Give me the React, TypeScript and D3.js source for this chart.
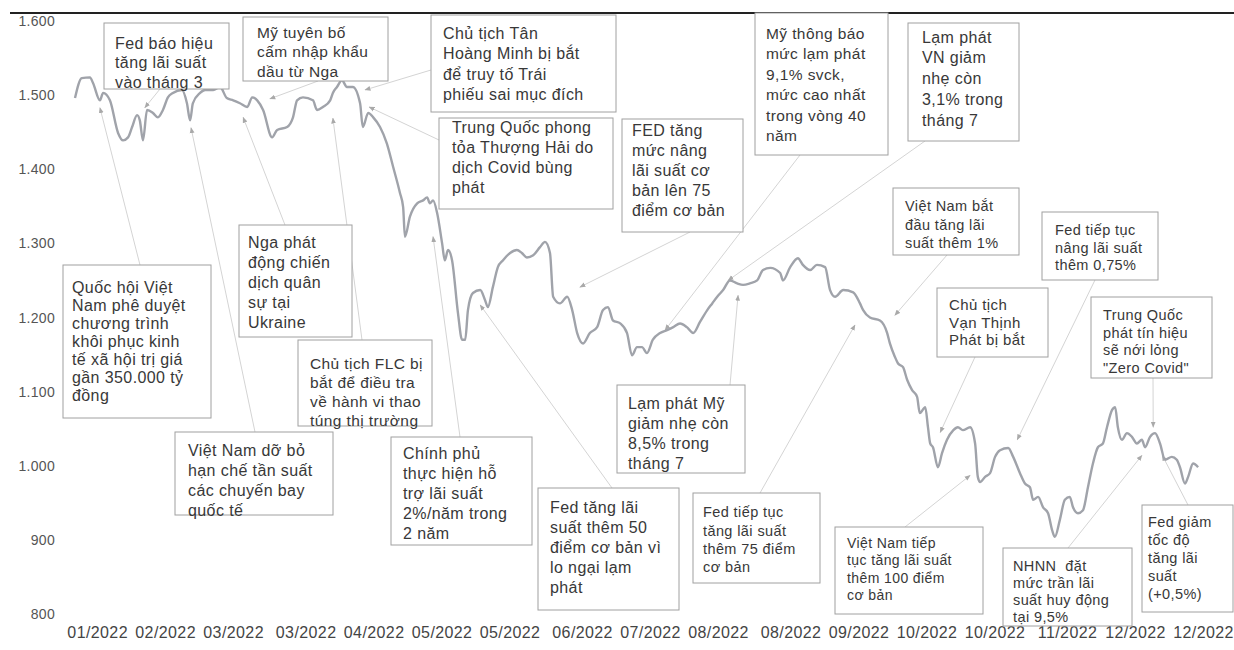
import React, { useEffect } from "react";
import * as d3 from "d3";

// ---- Data: VN-Index 2022 (trading-day index, closing level) ----
const days = [0,1.5,3.3,4.0,5.5,6.2,7.7,9.5,10.6,11.7,12.6,13.7,14.3,15.0,15.9,17.2,18.3,19.4,20.5,21.6,23.6,24.7,25.4,26.0,27.6,28.7,30.5,32.0,33.5,34.9,36.4,38.0,39.1,40.2,41.5,43.5,44.6,46.8,48.1,49.0,50.3,52.5,53.4,54.7,56.3,56.9,57.8,58.9,60.0,61.3,62.9,63.5,64.7,65.8,67.3,68.8,70.2,71.7,72.4,72.8,73.9,75.5,76.8,77.7,78.3,79.0,79.9,81.0,81.6,82.3,83.2,84.5,85.4,86.1,86.7,87.8,89.4,90.5,91.1,92.2,93.3,94.4,96.0,97.5,98.6,99.7,101.1,102.6,103.7,104.8,105.5,107.0,108.6,109.7,110.8,112.1,113.6,115.2,116.5,117.6,118.7,120.3,121.8,122.9,124.0,125.1,126.2,127.5,129.1,130.6,132.0,133.5,135.0,136.4,137.9,139.5,140.6,141.7,143.0,144.5,146.1,147.4,148.9,150.5,151.8,153.4,155.6,156.2,157.8,159.5,160.6,162.2,163.7,165.5,166.6,167.7,169.5,171.7,173.2,173.9,175.4,177.6,179.2,179.8,180.9,181.6,182.7,183.6,184.7,185.8,186.4,187.6,188.2,188.7,189.3,190.4,191.3,192.4,193.8,194.8,195.9,197.5,198.6,199.2,199.7,200.8,201.9,203.0,204.1,205.9,207.0,208.5,209.6,210.7,211.4,212.5,213.6,214.7,215.6,216.2,217.3,218.4,219.5,220.2,221.3,222.4,223.5,224.6,225.7,226.8,227.7,228.8,229.5,230.1,231.0,232.1,233.2,234.3,235.4,236.1,237.2,238.3,239.4,240.5,242.0,243.1,243.8,244.9,245.6,246.7,247.8];

const values = [1496,1523,1524,1516,1493,1503,1493,1449,1439,1443,1457,1473,1466,1439,1480,1476,1470,1480,1497,1503,1507,1489,1466,1489,1503,1507,1507,1511,1496,1493,1489,1484,1497,1493,1480,1443,1453,1457,1470,1493,1497,1493,1480,1484,1493,1503,1511,1520,1511,1511,1489,1457,1476,1470,1457,1435,1403,1368,1349,1309,1336,1354,1358,1362,1354,1358,1341,1300,1277,1291,1277,1206,1170,1170,1210,1233,1237,1223,1214,1241,1268,1277,1287,1291,1287,1281,1284,1295,1302,1287,1228,1219,1228,1210,1179,1165,1179,1187,1210,1214,1196,1192,1179,1149,1160,1160,1152,1170,1179,1183,1187,1192,1187,1179,1194,1210,1219,1228,1237,1250,1246,1244,1246,1250,1264,1267,1260,1250,1268,1280,1271,1264,1271,1268,1237,1228,1237,1234,1219,1210,1200,1196,1179,1165,1147,1138,1133,1116,1102,1093,1071,1079,1052,1030,1025,998,1017,1035,1048,1052,1048,1052,1030,985,978,985,990,1012,1021,1024,1012,990,976,971,954,958,944,936,913,904,927,954,958,944,936,940,971,1003,1025,1030,1052,1075,1079,1052,1035,1044,1039,1030,1035,1025,1039,1044,1030,1008,1012,1008,998,976,985,1003,998];

const xTickLabels = ["01/2022","02/2022","03/2022","03/2022","04/2022","05/2022","05/2022","06/2022","07/2022","08/2022","08/2022","09/2022","10/2022","10/2022","11/2022","12/2022","12/2022"];
const xTickDays = [5,20,35,51,66,81,96,112,127,142,158,173,188,203,219,234,249];
const yTicks = [800,900,1000,1100,1200,1300,1400,1500,1600];

// ---- Events (text + point on the curve they refer to) ----
const eventTexts: string[][] = [
  ["Fed báo hiệu","tăng lãi suất","vào tháng 3"],
  ["Mỹ tuyên bố","cấm nhập khẩu","dầu từ Nga"],
  ["Chủ tịch Tân","Hoàng Minh bị bắt","để truy tố Trái","phiếu sai mục đích"],
  ["Trung Quốc phong","tỏa Thượng Hải do","dịch Covid bùng","phát"],
  ["FED tăng","mức nâng","lãi suất cơ","bản lên 75","điểm cơ bản"],
  ["Mỹ thông báo","mức lạm phát","9,1% svck,","mức cao nhất","trong vòng 40","năm"],
  ["Lạm phát","VN giảm","nhẹ còn","3,1% trong","tháng 7"],
  ["Quốc hội Việt","Nam phê duyệt","chương trình","khôi phục kinh","tế xã hội trị giá","gần 350.000 tỷ","đồng"],
  ["Nga phát","động chiến","dịch quân","sự tại","Ukraine"],
  ["Chủ tịch FLC bị","bắt để điều tra","về hành vi thao","túng thị trường"],
  ["Việt Nam dỡ bỏ","hạn chế tần suất","các chuyến bay","quốc tế"],
  ["Chính phủ","thực hiện hỗ","trợ lãi suất","2%/năm trong","2 năm"],
  ["Lạm phát Mỹ","giảm nhẹ còn","8,5% trong","tháng 7"],
  ["Fed tăng lãi","suất thêm 50","điểm cơ bản vì","lo ngại lạm","phát"],
  ["Fed tiếp tục","tăng lãi suất","thêm 75 điểm","cơ bản"],
  ["Việt Nam bắt","đầu tăng lãi","suất thêm 1%"],
  ["Fed tiếp tục","nâng lãi suất","thêm 0,75%"],
  ["Chủ tịch","Vạn Thịnh","Phát bị bắt"],
  ["Trung Quốc","phát tín hiệu","sẽ nới lỏng","\"Zero Covid\""],
  ["Việt Nam tiếp","tục tăng lãi suất","thêm 100 điểm","cơ bản"],
  ["NHNN  đặt","mức trần lãi","suất huy động","tại 9,5%"],
  ["Fed giảm","tốc độ","tăng lãi","suất","(+0,5%)"],
];
const eventDays = [15.4,43.0,64.0,64.9,111.4,130.2,144.1,5.5,37.1,56.9,25.6,79.0,146.3,89.4,172.1,180.9,207.9,190.9,237.9,197.5,235.4,239.9];
const eventValues = [1483,1495,1507,1484,1241,1183,1250,1483,1470,1469,1456,1309,1230,1217,1190,1203,1035,1045,1052,987,1014,1014];

// ---- Layout of the annotation boxes (pixels) ----
type Box = { x0: number; y0: number; x1: number; y1: number; fs: number; lh: number; c0: number; tx: number; ax: number; ay: number };
const boxLayout: Box[] = [
  { x0: 104, y0: 23, x1: 229, y1: 89, fs: 16, lh: 19.5, c0: 43, tx: 115, ax: 160, ay: 89 },
  { x0: 243, y0: 17, x1: 388, y1: 81, fs: 15.5, lh: 19.5, c0: 32, tx: 257, ax: 318, ay: 81 },
  { x0: 431, y0: 15, x1: 616, y1: 112, fs: 16, lh: 20.5, c0: 33, tx: 443, ax: 431, ay: 70 },
  { x0: 439, y0: 118, x1: 613, y1: 209, fs: 16, lh: 20, c0: 127, tx: 452, ax: 439, ay: 140 },
  { x0: 622, y0: 119, x1: 743, y1: 232, fs: 16, lh: 20, c0: 130, tx: 632, ax: 690, ay: 232 },
  { x0: 755, y0: 13, x1: 888, y1: 155, fs: 15.5, lh: 20.5, c0: 33, tx: 766, ax: 800, ay: 155 },
  { x0: 908, y0: 23, x1: 1019, y1: 141, fs: 16, lh: 20.7, c0: 37, tx: 922, ax: 925, ay: 141 },
  { x0: 63, y0: 265, x1: 211, y1: 418, fs: 16, lh: 18, c0: 287, tx: 72, ax: 140, ay: 265 },
  { x0: 239, y0: 225, x1: 352, y1: 337, fs: 16, lh: 20, c0: 242, tx: 248, ax: 285, ay: 225 },
  { x0: 298, y0: 340, x1: 432, y1: 426, fs: 15.5, lh: 19, c0: 363, tx: 310, ax: 362, ay: 340 },
  { x0: 175, y0: 432, x1: 333, y1: 515, fs: 16, lh: 20, c0: 450, tx: 188, ax: 255, ay: 432 },
  { x0: 391, y0: 437, x1: 532, y1: 545, fs: 16, lh: 20, c0: 453, tx: 403, ax: 460, ay: 437 },
  { x0: 617, y0: 385, x1: 745, y1: 473, fs: 16, lh: 20, c0: 403, tx: 628, ax: 730, ay: 385 },
  { x0: 538, y0: 488, x1: 679, y1: 610, fs: 16, lh: 20, c0: 507, tx: 550, ax: 612, ay: 488 },
  { x0: 693, y0: 493, x1: 820, y1: 583, fs: 14.5, lh: 18.3, c0: 512, tx: 703, ax: 760, ay: 493 },
  { x0: 893, y0: 188, x1: 1019, y1: 255, fs: 14.5, lh: 18.5, c0: 206, tx: 905, ax: 947, ay: 255 },
  { x0: 1042, y0: 212, x1: 1158, y1: 280, fs: 14.5, lh: 17.5, c0: 230, tx: 1055, ax: 1095, ay: 280 },
  { x0: 937, y0: 288, x1: 1048, y1: 357, fs: 15, lh: 17.5, c0: 305, tx: 949, ax: 975, ay: 357 },
  { x0: 1091, y0: 297, x1: 1212, y1: 378, fs: 14.5, lh: 17.5, c0: 315, tx: 1103, ax: 1153, ay: 378 },
  { x0: 835, y0: 527, x1: 983, y1: 614, fs: 14, lh: 17.3, c0: 543, tx: 847, ax: 905, ay: 527 },
  { x0: 1003, y0: 548, x1: 1132, y1: 626, fs: 14.5, lh: 16.8, c0: 566, tx: 1013, ax: 1068, ay: 548 },
  { x0: 1142, y0: 505, x1: 1233, y1: 612, fs: 14.5, lh: 18, c0: 522, tx: 1148, ax: 1188, ay: 505 },
];

const W = 1234;
const H = 650;
const FONT = "'Liberation Sans', Arial, Helvetica, sans-serif";

export default function App() {
  useEffect(() => {
    document.body.style.margin = "0";
  }, []);

  const x = d3.scaleLinear().domain([0, 248]).range([75, 1199]);
  const y = d3.scaleLinear().domain([800, 1600]).range([614, 21]);

  const n = Math.min(days.length, values.length);
  const pts: [number, number][] = [];
  for (let i = 0; i < n; i++) pts.push([days[i], values[i]]);

  const line = d3
    .line<[number, number]>()
    .x((d) => x(d[0]))
    .y((d) => y(d[1]))
    .curve(d3.curveMonotoneX);

  return (
    <svg width={W} height={H} style={{ display: "block", background: "#fff" }} fontFamily={FONT}>
      <defs>
        <marker id="ah" viewBox="0 0 10 10" refX="9" refY="5" markerWidth="6" markerHeight="6" orient="auto-start-reverse">
          <path d="M0,1 L10,5 L0,9 Z" fill="#a9a9a9" />
        </marker>
      </defs>
      <rect x={0} y={0} width={W} height={H} fill="#fff" />
      {/* top rule */}
      <line x1={10} x2={W} y1={13} y2={13} stroke="#222" strokeWidth={2} />

      {/* y tick labels */}
      {yTicks.map((t) => (
        <text key={t} x={55} y={y(t) + 5} textAnchor="end" fontSize={14} fill="#555" letterSpacing={0.3}>
          {d3.format(",")(t).replace(/,/g, ".")}
        </text>
      ))}

      {/* x tick labels */}
      {xTickLabels.map((lab, i) => (
        <text key={i} x={x(xTickDays[i])} y={638} textAnchor="middle" fontSize={16} fill="#444" letterSpacing={0.4}>
          {lab}
        </text>
      ))}

      {/* connectors */}
      {eventTexts.map((_, i) => {
        const b = boxLayout[i];
        return (
          <line
            key={"a" + i}
            x1={b.ax}
            y1={b.ay}
            x2={x(eventDays[i])}
            y2={y(eventValues[i])}
            stroke="#d4d4d4"
            strokeWidth={1}
            markerEnd="url(#ah)"
          />
        );
      })}

      {/* series */}
      <path d={line(pts) || ""} fill="none" stroke="#a0a3aa" strokeWidth={2.4} strokeLinejoin="round" />

      {/* annotation boxes */}
      {eventTexts.map((lines, i) => {
        const b = boxLayout[i];
        return (
          <g key={"b" + i}>
            <rect x={b.x0} y={b.y0} width={b.x1 - b.x0} height={b.y1 - b.y0} fill="#fff" stroke="#a0a0a0" strokeWidth={1} />
            {lines.map((t, j) => (
              <text
                key={j}
                x={b.tx}
                y={b.c0 + j * b.lh + b.fs * 0.36}
                fontSize={b.fs}
                fill="#383838"
                letterSpacing={0.4}
                style={{ whiteSpace: "pre" }}
              >
                {t}
              </text>
            ))}
          </g>
        );
      })}
    </svg>
  );
}
